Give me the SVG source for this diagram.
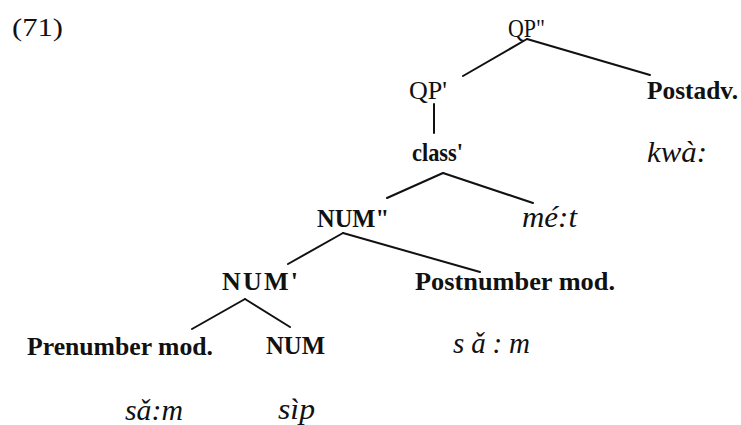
<svg xmlns="http://www.w3.org/2000/svg" width="741" height="425" viewBox="0 0 741 425" font-family="'Liberation Serif', 'Times New Roman', Tinos, Times, serif">
<style>
text{font-family:'Liberation Serif','Times New Roman',Tinos,Times,serif;fill:#111;}
.r{font-size:26px;}
.b{font-size:26px;font-weight:bold;}
.i{font-size:29px;font-style:italic;}
.edge{stroke:#111;stroke-width:2;fill:none;stroke-linecap:round;}
</style>
<rect width="741" height="425" fill="#fff"/>
<text class="r" x="12" y="36" textLength="51" lengthAdjust="spacingAndGlyphs">(71)</text>
<g id="connectors">
<line class="edge" x1="527" y1="39" x2="463" y2="76"/>
<line class="edge" x1="527" y1="39" x2="650" y2="75"/>
<line class="edge" x1="434" y1="104" x2="434" y2="133"/>
<line class="edge" x1="443" y1="173" x2="387" y2="198"/>
<line class="edge" x1="443" y1="173" x2="533" y2="203"/>
<line class="edge" x1="343" y1="233" x2="288" y2="264"/>
<line class="edge" x1="343" y1="233" x2="480" y2="272"/>
<line class="edge" x1="245" y1="299" x2="192" y2="329"/>
<line class="edge" x1="245" y1="299" x2="290" y2="327"/>
</g>
<g id="qp2"><text class="r" x="508" y="37" textLength="37" lengthAdjust="spacingAndGlyphs">QP"</text></g>
<g id="qp1"><text class="r" x="409" y="99" textLength="38" lengthAdjust="spacingAndGlyphs">QP'</text></g>
<g id="postadv"><text class="b" x="647" y="99" textLength="91" lengthAdjust="spacingAndGlyphs">Postadv.</text></g>
<g id="kwa"><text class="i" x="647" y="162" font-size="30" textLength="60" lengthAdjust="spacingAndGlyphs">kwà:</text></g>
<g id="class1"><text class="b" x="412" y="161" font-size="23" textLength="51" lengthAdjust="spacingAndGlyphs">class'</text></g>
<g id="num2"><text class="b" x="317" y="227" textLength="72" lengthAdjust="spacingAndGlyphs">NUM"</text></g>
<g id="met"><text class="i" x="522" y="227" textLength="55" lengthAdjust="spacingAndGlyphs">mé:t</text></g>
<g id="num1"><text class="b" x="222" y="290" textLength="76" lengthAdjust="spacing">NUM'</text></g>
<g id="postnum"><text class="b" x="415" y="290" textLength="200" lengthAdjust="spacingAndGlyphs">Postnumber mod.</text></g>
<g id="prenum"><text class="b" x="27" y="355" font-size="25" textLength="186" lengthAdjust="spacingAndGlyphs">Prenumber mod.</text></g>
<g id="num0"><text class="b" x="266" y="354" textLength="59" lengthAdjust="spacingAndGlyphs">NUM</text></g>
<g id="sam2"><text class="i" x="453" y="353" font-size="28" textLength="77" lengthAdjust="spacing">s ǎ : m</text></g>
<g id="sam1"><text class="i" x="125" y="420" font-size="28" textLength="58" lengthAdjust="spacingAndGlyphs">sǎ:m</text></g>
<g id="sip"><text class="i" x="278" y="419" font-size="28" textLength="37" lengthAdjust="spacingAndGlyphs">sìp</text></g>
</svg>
